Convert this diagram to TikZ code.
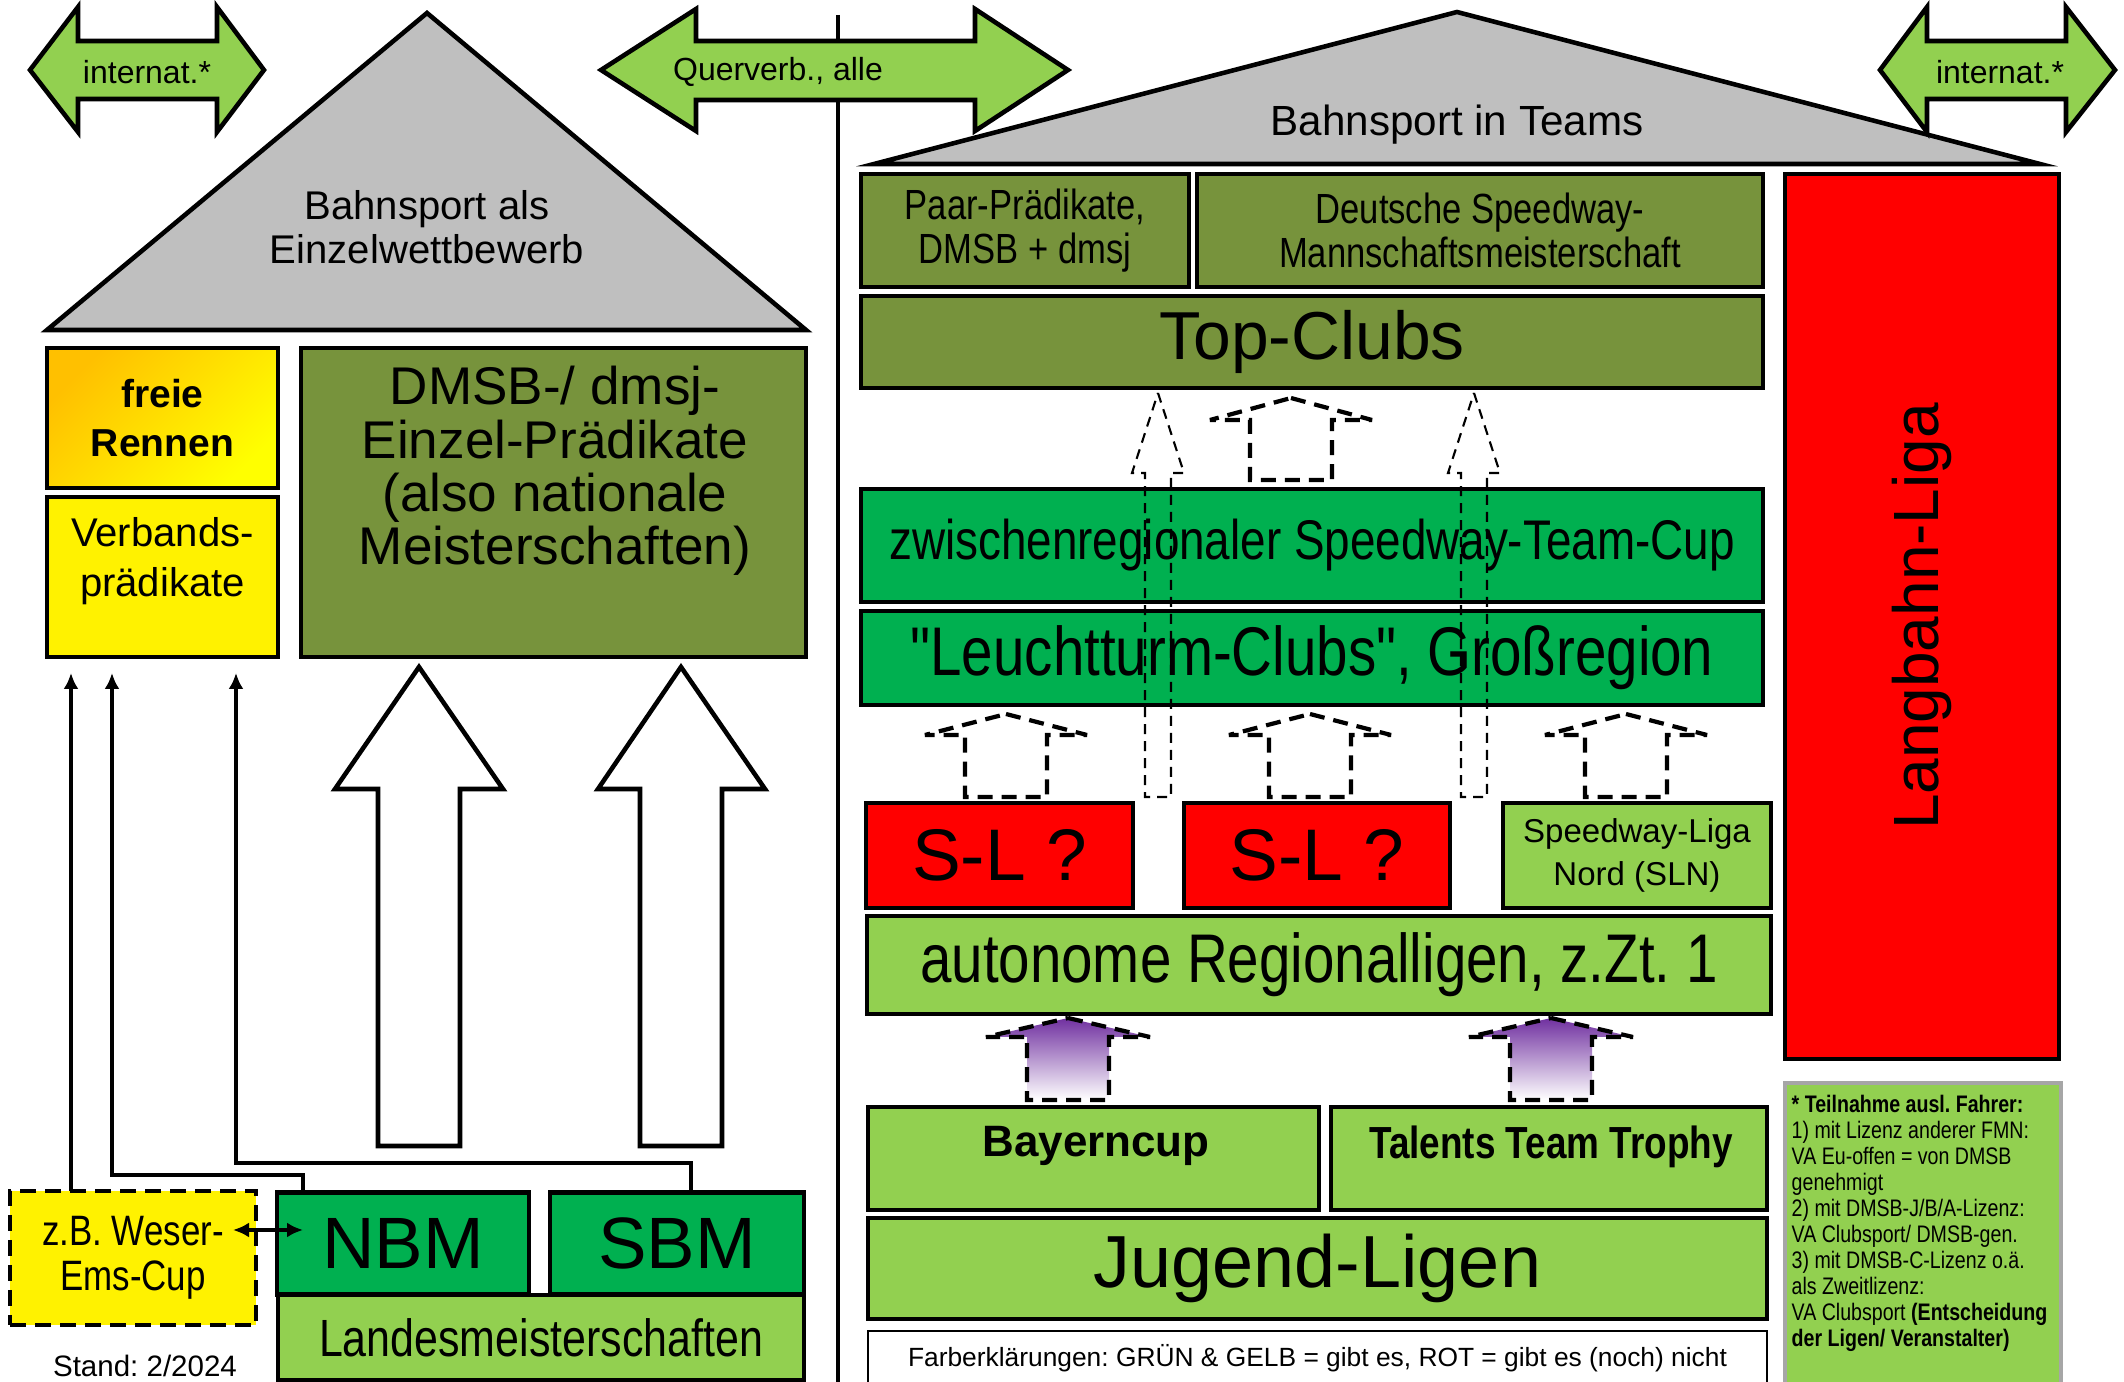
\documentclass[tikz,border=0pt]{standalone}
\usepackage{fontspec}
\setmainfont{Liberation Sans}
\newfontfamily\narrowsf[FakeStretch=0.82]{Liberation Sans}
\usetikzlibrary{arrows.meta}
\frenchspacing

\definecolor{lgreen}{HTML}{92D050}
\definecolor{dgreen}{HTML}{00B050}
\definecolor{olivegr}{HTML}{77933C}
\definecolor{roofgrey}{HTML}{BFBFBF}
\definecolor{goldor}{HTML}{FFC000}
\definecolor{purp}{HTML}{7030A0}
\definecolor{notegrey}{HTML}{A6A6A6}

\tikzset{
  box/.style={draw, line width=1.3pt, inner sep=0pt, outer sep=0pt, align=center},
  roof/.style={draw, line width=1.3pt, fill=roofgrey},
  dblarr/.style={draw, line width=1.3pt, fill=lgreen},
  bigarr/.style={draw, line width=1.3pt, fill=white},
  hatarr/.style={draw, line width=1.2pt, dash pattern=on 1.5mm off 0.9mm, miter limit=2},
  longarr/.style={draw, line width=0.6pt, dash pattern=on 1mm off 0.7mm},
  conn/.style={line width=1.1pt, ->}
}

\begin{document}
\begin{tikzpicture}[x=0.1mm, y=-0.1mm, >={Latex[length=1.6mm,width=1.5mm]},
  tInt/.style={font=\fontsize{9.1}{11}\selectfont},
  tRoofL/.style={font=\fontsize{11.4}{12.5}\selectfont, align=center},
  tRoofR/.style={font=\fontsize{12}{14}\selectfont},
  tFreie/.style={font=\bfseries\fontsize{11.1}{13.9}\selectfont},
  tVerb/.style={font=\fontsize{11.4}{14.2}\selectfont, align=center},
  tDmsb/.style={font=\fontsize{15.1}{15.2}\selectfont, align=center},
  tPaar/.style={font=\narrowsf\fontsize{12}{12.5}\selectfont},
  tTop/.style={font=\fontsize{19.3}{22}\selectfont},
  tZwi/.style={font=\narrowsf\fontsize{15.9}{18}\selectfont},
  tLeu/.style={font=\narrowsf\fontsize{19.6}{22}\selectfont},
  tSL/.style={font=\fontsize{20.8}{24}\selectfont},
  tSLN/.style={font=\fontsize{9.4}{12.2}\selectfont},
  tAuto/.style={font=\narrowsf\fontsize{19.6}{22}\selectfont},
  tBay/.style={font=\bfseries\fontsize{12.5}{15}\selectfont},
  tTal/.style={font=\narrowsf\bfseries\fontsize{12.8}{15}\selectfont},
  tJug/.style={font=\fontsize{21}{24}\selectfont},
  tLang/.style={font=\fontsize{18.2}{21}\selectfont},
  tBM/.style={font=\fontsize{20.7}{24}\selectfont},
  tLand/.style={font=\narrowsf\fontsize{14.9}{17}\selectfont},
  tWes/.style={font=\narrowsf\fontsize{12.1}{12.8}\selectfont},
  tStand/.style={font=\fontsize{8.4}{10}\selectfont},
  tFarb/.style={font=\fontsize{7.5}{9}\selectfont},
  tNote/.style={font=\narrowsf\fontsize{6.8}{7.4}\selectfont, align=left}]

\useasboundingbox (0,0) rectangle (2124,1382);
\clip (0,0) rectangle (2124,1382);

% roofs
\draw[roof] (427,13) -- (806,330) -- (47,330) -- cycle;
\draw[roof] (1457,12) -- (2040,164) -- (874,164) -- cycle;
\node[tRoofL] (roofltxt) at (427,227) {Bahnsport als\\Einzelwettbewerb};
\node[tRoofR] (roofrtxt) at (1457,125) {Bahnsport in Teams};

% divider
\draw[line width=1.1pt] (838,15) -- (838,1400);

% green double arrows
\draw[dblarr] (30,70) -- (78,7) -- (78,41) -- (217,41) -- (217,7) -- (264,70) -- (217,132) -- (217,99) -- (78,99) -- (78,132) -- cycle;
\draw[dblarr] (601,70) -- (696,9) -- (696,41) -- (975,41) -- (975,9) -- (1068,70) -- (975,131) -- (975,100) -- (696,100) -- (696,131) -- cycle;
\draw[dblarr] (1880,70) -- (1927,7) -- (1927,41) -- (2066,41) -- (2066,7) -- (2115,70) -- (2066,132) -- (2066,99) -- (1927,99) -- (1927,132) -- cycle;
\node[tInt] (intl) at (147,72) {internat.*};
\node[tInt] (querv) at (778,72) {Querverb., alle};
\node[tInt] (intr) at (2000,72) {internat.*};

% left house
\node[box, top color=goldor, bottom color=yellow, shading angle=45, minimum width=23.1mm, minimum height=14mm, tFreie] (freie) at (162.5,418) {freie\\Rennen};
\node[box, fill=yellow, minimum width=23.1mm, minimum height=16mm] (verb) at (162.5,577) {};
\node[tVerb] (verbtxt) at (162.5,561) {Verbands-\\prädikate};
\node[box, fill=olivegr, minimum width=50.5mm, minimum height=30.9mm] (dmsb) at (553.5,502.5) {};
\node[tDmsb] (dmsbtxt) at (555,471) {DMSB-/ dmsj-\\Einzel-Prädikate\\(also nationale\\Meisterschaften)};

% right house
\node[box, fill=olivegr, minimum width=32.8mm, minimum height=11.3mm, tPaar] (paar) at (1025,230.5) {Paar-Prädikate,\\DMSB + dmsj};
\node[box, fill=olivegr, minimum width=56.6mm, minimum height=11.3mm, tPaar] (dsmm) at (1480,230.5) {Deutsche Speedway-\\Mannschaftsmeisterschaft};
\node[box, fill=olivegr, minimum width=90.2mm, minimum height=9.2mm, tTop] (top) at (1312,342) {Top-Clubs};
\node[box, fill=red, rotate=90, minimum width=88.5mm, minimum height=27.4mm, tLang] (langbahn) at (1922,616.5) {Langbahn-Liga};
\node[box, fill=dgreen, minimum width=90.2mm, minimum height=11.3mm, tZwi] (zwischen) at (1312,545.5) {zwischenregionaler Speedway-Team-Cup};
\node[box, fill=dgreen, minimum width=90.2mm, minimum height=9.4mm, tLeu] (leucht) at (1312,658) {"Leuchtturm-Clubs", Großregion};
\node[box, fill=red, minimum width=26.7mm, minimum height=10.5mm, tSL] (sla) at (999.5,855.5) {S-L ?};
\node[box, fill=red, minimum width=26.6mm, minimum height=10.5mm, tSL] (slb) at (1317,855.5) {S-L ?};
\node[box, fill=lgreen, minimum width=26.8mm, minimum height=10.5mm, tSLN] (sln) at (1637,855.5) {Speedway-Liga\\Nord (SLN)};
\node[box, fill=lgreen, minimum width=90.4mm, minimum height=9.8mm, tAuto] (auton) at (1319,965) {autonome Regionalligen, z.Zt. 1};
\node[box, fill=lgreen, minimum width=45.1mm, minimum height=10.3mm] (bayern) at (1093.5,1158.5) {};
\node[tBay] (baytxt) at (1096,1146) {Bayerncup};
\node[box, fill=lgreen, minimum width=43.6mm, minimum height=10.3mm] (talents) at (1549,1158.5) {};
\node[tTal] (taltxt) at (1551,1147) {Talents Team Trophy};
\node[box, fill=lgreen, minimum width=89.9mm, minimum height=10.1mm, tJug] (jugend) at (1317.5,1268.5) {Jugend-Ligen};
\node[draw, line width=0.7pt, fill=white, inner sep=0pt, minimum width=89.9mm, minimum height=5.4mm, tFarb] (farb) at (1317.5,1358) {Farberklärungen: GRÜN \& GELB = gibt es, ROT = gibt es (noch) nicht};

% footnote
\node[draw=notegrey, line width=1.2pt, fill=lgreen, inner sep=0pt, minimum width=27.6mm, minimum height=31.7mm] (note) at (1923,1241.5) {};
\node[tNote, anchor=north west, inner sep=0pt] (notetxt) at (1791,1094) {\textbf{* Teilnahme ausl. Fahrer:}\\1) mit Lizenz anderer FMN:\\VA Eu-offen = von DMSB\\genehmigt\\2) mit DMSB-J/B/A-Lizenz:\\VA Clubsport/ DMSB-gen.\\3) mit DMSB-C-Lizenz o.ä.\\als Zweitlizenz:\\VA Clubsport \textbf{(Entscheidung}\\\textbf{der Ligen/ Veranstalter)}};

% bottom left
\node[box, fill=yellow, dash pattern=on 1.6mm off 0.9mm, minimum width=24.6mm, minimum height=13.4mm, tWes] (weser) at (133,1258) {z.B. Weser-\\Ems-Cup};
\node[box, fill=dgreen, minimum width=25.2mm, minimum height=10.2mm, tBM] (nbm) at (403,1243.5) {NBM};
\node[box, fill=dgreen, minimum width=25.4mm, minimum height=10.2mm, tBM] (sbm) at (677,1243.5) {SBM};
\node[box, fill=lgreen, minimum width=52.6mm, minimum height=8.5mm, tLand] (landes) at (541,1337.5) {Landesmeisterschaften};
\node[tStand] (stand) at (145,1366) {Stand: 2/2024};

% big white arrows
\draw[bigarr] (419,667) -- (503,789) -- (460,789) -- (460,1146) -- (378,1146) -- (378,789) -- (335,789) -- cycle;
\draw[bigarr] (681,667) -- (765,789) -- (722,789) -- (722,1146) -- (640,1146) -- (640,789) -- (598,789) -- cycle;

% thin arrows
\coordinate (va) at (71,673);
\coordinate (vb) at (112,673);
\coordinate (vc) at (236,673);
\coordinate (nbmup) at (303,1175);
\coordinate (sbmup) at (691,1163);
\coordinate (wl) at (233,1230);
\coordinate (wr) at (303,1230);
\draw[conn] (weser.north -| va) -- (va);
\draw[conn] (nbm.north -| nbmup) -- (nbmup) -| (vb);
\draw[conn] (sbm.north -| sbmup) -- (sbmup) -| (vc);
\draw[conn, <->] (wl) -- (wr);

% dashed arrows
\draw[hatarr] (1291,398) -- ++(81,22) -- ++(-40,0) -- ++(0,60) -- ++(-82,0) -- ++(0,-60) -- ++(-40,0) -- cycle;
\draw[hatarr] (1006,714) -- ++(81,21) -- ++(-40,0) -- ++(0,62) -- ++(-82,0) -- ++(0,-62) -- ++(-40,0) -- cycle;
\draw[hatarr] (1310,714) -- ++(81,21) -- ++(-40,0) -- ++(0,62) -- ++(-82,0) -- ++(0,-62) -- ++(-40,0) -- cycle;
\draw[hatarr] (1626,714) -- ++(81,21) -- ++(-40,0) -- ++(0,62) -- ++(-82,0) -- ++(0,-62) -- ++(-40,0) -- cycle;
\draw[hatarr, top color=purp, bottom color=white] (1068,1018) -- ++(82,19) -- ++(-41,0) -- ++(0,63) -- ++(-82,0) -- ++(0,-63) -- ++(-41,0) -- cycle;
\draw[hatarr, top color=purp, bottom color=white] (1551,1018) -- ++(82,19) -- ++(-41,0) -- ++(0,63) -- ++(-82,0) -- ++(0,-63) -- ++(-41,0) -- cycle;
\draw[longarr] (1158,393) -- ++(26,80) -- ++(-13,0) -- ++(0,324) -- ++(-26,0) -- ++(0,-324) -- ++(-13,0) -- cycle;
\draw[longarr] (1474,393) -- ++(26,80) -- ++(-13,0) -- ++(0,324) -- ++(-26,0) -- ++(0,-324) -- ++(-13,0) -- cycle;

\end{tikzpicture}
\end{document}
